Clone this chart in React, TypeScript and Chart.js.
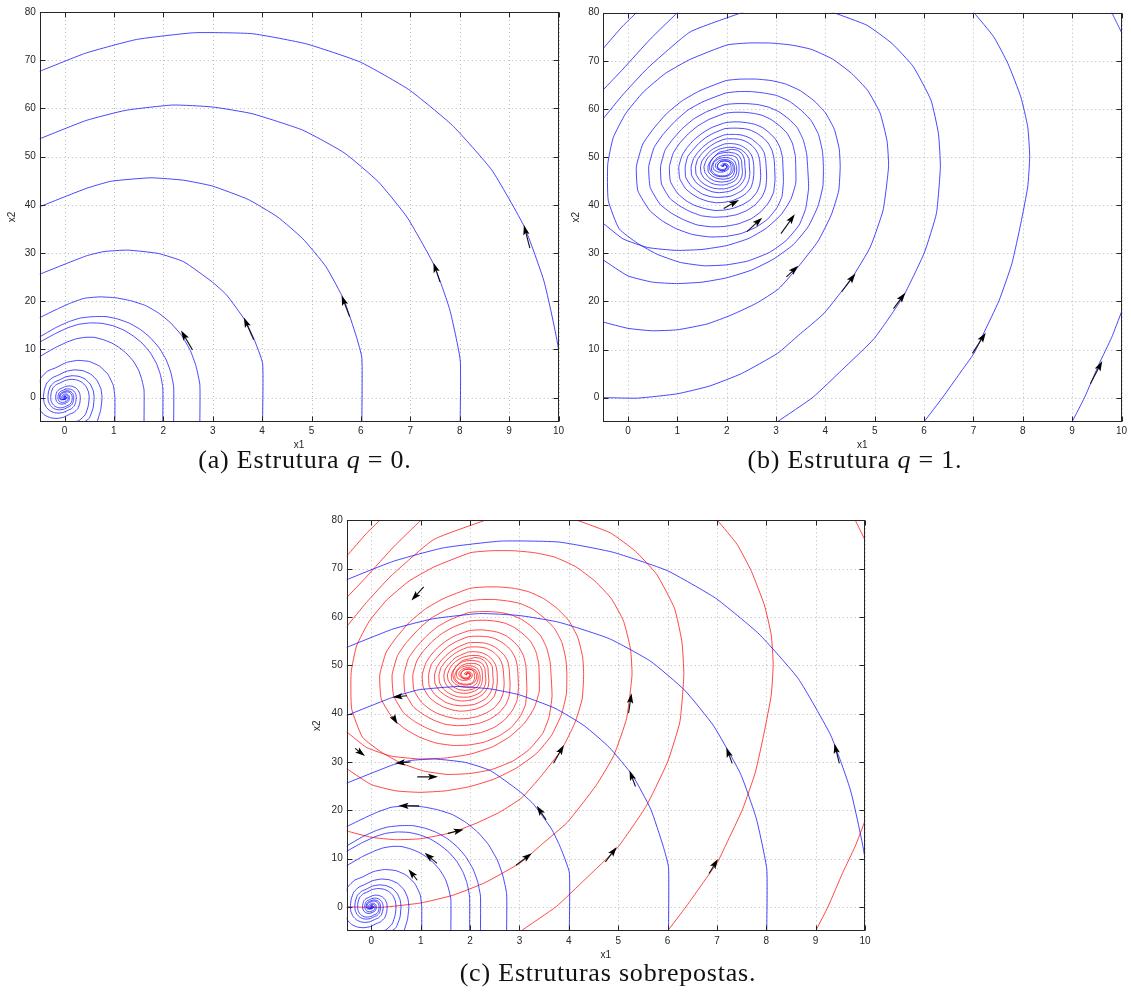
import React, { useEffect, useRef } from "react";
import { Chart, registerables } from "chart.js";

Chart.register(...registerables);

type Pt = [number, number];
type Arrow = [number, number, number, number];

// ---------- axes ----------
const X_RANGE: [number, number] = [-0.5, 10];
const Y_RANGE: [number, number] = [-5, 80];
const X_TICKS = [0, 1, 2, 3, 4, 5, 6, 7, 8, 9, 10];
const Y_TICKS = [0, 10, 20, 30, 40, 50, 60, 70, 80];

// ---------- structure q = 0 (focus at origin) ----------
const Q0_R10: Pt[] = [[10, -5], [10, 9.9], [9.71, 24.0], [9.31, 35.4], [8.65, 47.2], [7.85, 56.5], [6.97, 63.9], [5.99, 69.6], [4.89, 73.4], [3.8, 75.5], [2.63, 75.7], [1.46, 74.3], [0.44, 71.5], [-0.5, 67.7], [-0.7, 66.8]];
const Q0_R8: Pt[] = [[8.01, -5], [8.01, 7.8], [7.8, 18.2], [7.48, 27.5], [6.93, 37.5], [6.35, 44.8], [5.66, 50.8], [4.82, 55.5], [3.8, 58.9], [2.99, 60.3], [2.19, 60.7], [1.24, 59.6], [0.44, 57.5], [-0.5, 53.7], [-0.7, 52.8]];
const Q0_R6: Pt[] = [[6.02, -5], [6.02, 8.2], [5.91, 12.6], [5.66, 20.2], [5.29, 27.2], [4.82, 33.0], [4.31, 37.5], [3.72, 41.1], [2.99, 43.9], [2.41, 45.1], [1.75, 45.6], [0.95, 44.9], [0.44, 43.4], [-0.5, 39.6], [-0.7, 38.7]];
const Q0_R4: Pt[] = [[4.01, -5], [4.01, 7.1], [3.83, 12.3], [3.65, 16.1], [3.28, 21.3], [2.99, 24.0], [2.41, 28.2], [1.9, 29.9], [1.28, 30.6], [0.8, 30.3], [0.44, 29.4], [-0.5, 25.6], [-0.7, 24.6]];
const Q0_R274: Pt[] = [[2.74, -5], [2.74, 2.7], [2.66, 6.6], [2.55, 9.7], [2.37, 12.9], [2.15, 15.5], [1.91, 17.5], [1.64, 19.1], [1.34, 20.1], [1.04, 20.7], [0.72, 20.9], [0.4, 20.6], [0.12, 19.6], [-0.14, 18.4], [-0.5, 16.6], [-0.7, 15.5]];
const Q0_R221: Pt[] = [[2.21, -5], [2.21, 2.2], [2.15, 5.3], [2.06, 7.8], [1.91, 10.4], [1.73, 12.5], [1.54, 14.1], [1.32, 15.4], [1.08, 16.3], [0.84, 16.8], [0.58, 16.8], [0.32, 16.5], [0.1, 15.8], [-0.18, 14.5], [-0.5, 12.6], [-0.7, 11.3]];
const Q0_R199: Pt[] = [[1.99, -5], [1.99, 2.0], [1.94, 4.8], [1.86, 7.1], [1.73, 9.4], [1.57, 11.3], [1.39, 12.8], [1.2, 14.0], [0.98, 14.9], [0.76, 15.4], [0.53, 15.5], [0.29, 15.2], [0.07, 14.5], [-0.2, 13.2], [-0.5, 11.5], [-0.7, 10.2]];
const Q0_R161: Pt[] = [[1.61, -5], [1.61, 1.6], [1.56, 3.9], [1.5, 5.7], [1.39, 7.6], [1.26, 9.1], [1.12, 10.3], [0.96, 11.3], [0.79, 12.0], [0.6, 12.5], [0.42, 12.5], [0.24, 12.2], [0.07, 11.6], [-0.2, 10.3], [-0.5, 8.5], [-0.7, 7.0]];
const Q0_S102: Pt[] = [[1.02, -5], [1.02, 0], [0.99, 2.45], [0.88, 4.81], [0.71, 6.52], [0.5, 7.49], [0.27, 7.72], [0.04, 7.29], [-0.18, 6.18], [-0.34, 5.51], [-0.48, 4.08], [-0.55, 2.04], [-0.57, 0], [-0.55, -1.37], [-0.49, -2.69], [-0.4, -3.65], [-0.28, -4.19], [-0.15, -4.32], [-0.02, -4.08], [0.1, -3.46], [0.19, -3.08], [0.27, -2.28], [0.31, -1.14], [0.32, 0], [0.31, 0.77], [0.277, 1.51], [0.224, 2.04], [0.157, 2.35], [0.083, 2.42], [0.013, 2.29], [-0.058, 1.94], [-0.106, 1.73], [-0.15, 1.28], [-0.173, 0.64], [-0.179, 0], [-0.174, -0.43], [-0.155, -0.84], [-0.125, -1.15], [-0.088, -1.32], [-0.047, -1.36], [-0.007, -1.28], [0.032, -1.08], [0.059, -0.97], [0.084, -0.72], [0.097, -0.36], [0.1, 0], [0.097, 0.24], [0.087, 0.47], [0.07, 0.64], [0.049, 0.73], [0.026, 0.76], [0.004, 0.72], [-0.018, 0.61], [-0.033, 0.54], [-0.047, 0.4], [-0.054, 0.2], [-0.056, 0], [-0.054, -0.13], [-0.048, -0.26], [-0.039, -0.36], [-0.027, -0.41], [-0.015, -0.42], [-0.002, -0.4], [0.01, -0.34], [0.018, -0.3], [0.026, -0.22], [0.03, -0.11], [0.031, 0], [0.02, 0.15], [0, 0.2], [-0.015, 0.1], [0, 0]];
const Q0_S065: Pt[] = [[0.66, -5], [0.73, -2.7], [0.76, 0], [0.737, 1.82], [0.657, 3.59], [0.532, 4.86], [0.372, 5.58], [0.198, 5.75], [0.03, 5.43], [-0.137, 4.61], [-0.25, 4.1], [-0.357, 3.04], [-0.41, 1.52], [-0.426, 0], [-0.413, -1.02], [-0.368, -2.01], [-0.298, -2.72], [-0.208, -3.12], [-0.111, -3.22], [-0.017, -3.04], [0.076, -2.58], [0.141, -2.3], [0.2, -1.7], [0.23, -0.85], [0.239, 0], [0.232, 0.57], [0.207, 1.13], [0.167, 1.53], [0.117, 1.75], [0.062, 1.81], [0.01, 1.71], [-0.043, 1.45], [-0.079, 1.29], [-0.112, 0.96], [-0.129, 0.48], [-0.134, 0], [-0.13, -0.32], [-0.116, -0.63], [-0.094, -0.86], [-0.065, -0.98], [-0.035, -1.01], [-0.005, -0.96], [0.024, -0.81], [0.044, -0.72], [0.063, -0.54], [0.072, -0.27], [0.075, 0], [0.07, 0.3], [0.04, 0.5], [0, 0.45], [-0.03, 0.2], [-0.03, -0.1], [0, -0.2], [0, 0]];
const Q0_S041: Pt[] = [[0.41, -5], [0.5, -4.28], [0.58, -2.14], [0.6, 0], [0.582, 1.44], [0.519, 2.83], [0.42, 3.83], [0.294, 4.4], [0.156, 4.54], [0.024, 4.29], [-0.108, 3.64], [-0.198, 3.24], [-0.282, 2.4], [-0.324, 1.2], [-0.336, 0], [-0.326, -0.8], [-0.29, -1.58], [-0.235, -2.15], [-0.164, -2.47], [-0.088, -2.54], [-0.013, -2.4], [0.06, -2.03], [0.111, -1.81], [0.158, -1.34], [0.181, -0.67], [0.188, 0], [0.182, 0.45], [0.163, 0.89], [0.132, 1.2], [0.092, 1.38], [0.049, 1.42], [0.008, 1.34], [-0.034, 1.14], [-0.062, 1.02], [-0.088, 0.75], [-0.102, 0.38], [-0.105, 0], [-0.1, -0.25], [-0.075, -0.45], [-0.03, -0.44], [0.01, -0.38], [0.04, -0.2], [0.05, 0], [0.03, 0.2], [0, 0.2], [0, 0]];
const Q0_S021: Pt[] = [[0.2, -5], [0.29, -4.8], [0.42, -3.56], [0.48, -1.78], [0.5, 0], [0.485, 1.2], [0.433, 2.36], [0.35, 3.2], [0.245, 3.67], [0.13, 3.79], [0.02, 3.58], [-0.09, 3.03], [-0.165, 2.7], [-0.235, 2.0], [-0.27, 1.0], [-0.28, 0], [-0.272, -0.67], [-0.242, -1.32], [-0.196, -1.79], [-0.137, -2.06], [-0.073, -2.12], [-0.011, -2.0], [0.05, -1.7], [0.093, -1.51], [0.132, -1.12], [0.151, -0.56], [0.157, 0], [0.152, 0.38], [0.136, 0.74], [0.11, 1.0], [0.077, 1.15], [0.041, 1.19], [0.006, 1.12], [-0.028, 0.95], [-0.052, 0.85], [-0.074, 0.63], [-0.085, 0.31], [-0.088, 0], [-0.08, -0.3], [-0.05, -0.38], [-0.01, -0.35], [0.03, -0.2], [0.045, 0], [0.02, 0.15], [0, 0]];

// ---------- structure q = 1 (focus near (1.93, 48)) ----------
const Q1_C9: Pt[] = [[9.0, -5], [9.25, 0], [9.55, 7.1], [9.8, 12.5], [10.0, 17.8], [10.1, 20.5]];
const Q1_CTOPR: Pt[] = [[9.78, 80.5], [9.9, 78], [10.02, 75.5], [10.1, 74]];
const Q1_C6: Pt[] = [[6.0, -5], [6.38, 0.1], [6.72, 5.0], [7.01, 9.2], [7.19, 13.0], [7.52, 20.2], [7.78, 27.9], [7.96, 36.2], [8.1, 43.8], [8.14, 50.1], [8.1, 56.3], [7.96, 62.5], [7.7, 69.4], [7.41, 75], [7.01, 80], [6.9, 81]];
const Q1_C3: Pt[] = [[3.03, -5], [3.75, 0.1], [4.33, 5.7], [4.99, 12.3], [5.57, 20.9], [6.0, 30], [6.25, 38.3], [6.33, 48], [6.29, 54.9], [6.14, 61.8], [5.78, 68.8], [5.35, 73.6], [4.84, 77.4], [4.17, 80], [4.0, 80.6]];
const Q1_TOP1: Pt[] = [[0.25, 81], [0.17, 80], [-0.1, 77.3], [-0.5, 72.6], [-0.7, 70.5]];
const Q1_TOP2: Pt[] = [[1.1, 81], [1.0, 80], [0.45, 74.5], [-0.1, 68.3], [-0.5, 64.0], [-0.7, 62.0]];
const Q1_TOP3: Pt[] = [[2.45, 80.6], [2.3, 80], [1.26, 76], [0.4, 68.5], [-0.1, 63.0], [-0.5, 58.0], [-0.7, 55.5]];
const Q1_LEFT0: Pt[] = [[-0.7, 0], [-0.5, 0], [0.2, -0.1], [1.0, 0.8], [1.65, 2.4], [2.3, 5.0], [3.03, 9.2], [3.46, 13.0], [3.97, 17.5], [4.55, 25.1], [4.91, 31.3], [5.17, 39.0], [5.28, 48], [5.25, 53.3], [5.11, 59.1], [4.86, 63.8], [4.53, 67.4], [4.14, 70.4], [3.71, 72.4], [3.3, 73.3], [2.88, 73.7], [2.43, 73.7], [2.01, 73.3], [1.26, 70.3], [0.76, 67.4], [0.31, 63.5], [-0.05, 59], [-0.3, 54], [-0.41, 48.5], [-0.4, 41], [-0.18, 35.1], [0.19, 32.1], [0.59, 29.8], [1.06, 28.1], [1.55, 27.4], [2.0, 27.6], [2.43, 28.4], [2.87, 30.2], [3.2, 32.6], [3.47, 35.9], [3.6, 39.3], [3.66, 43.6], [3.64, 48], [3.62, 50.7], [3.55, 53.6], [3.43, 56.1], [3.26, 57.9], [3.06, 59.4], [2.84, 60.4], [2.63, 60.9], [2.41, 61.1], [2.19, 61.1], [1.97, 60.9], [1.59, 59.4], [1.33, 57.9], [1.1, 55.9], [0.9, 53.6], [0.75, 51.4], [0.66, 48], [0.68, 44.4], [0.85, 41.4], [1.04, 39.9], [1.25, 38.7], [1.49, 37.8], [1.74, 37.5], [1.96, 37.6], [2.19, 38], [2.41, 38.9], [2.58, 40.1], [2.72, 41.8], [2.79, 43.6], [2.81, 45.8], [2.8, 48], [2.79, 49.4], [2.76, 50.9], [2.69, 52.1], [2.6, 53], [2.5, 53.8], [2.39, 54.3], [2.29, 54.6], [2.18, 54.7], [2.06, 54.7], [1.95, 54.6], [1.76, 53.8], [1.63, 53], [1.51, 52], [1.41, 50.9], [1.33, 49.7], [1.28, 48], [1.29, 46.2], [1.38, 44.7], [1.48, 43.9], [1.58, 43.3], [1.7, 42.8], [1.83, 42.6], [1.95, 42.7], [2.06, 42.9], [2.17, 43.4], [2.26, 44], [2.33, 44.9], [2.37, 45.7], [2.38, 46.9], [2.37, 48], [2.36, 49.5], [2.31, 50.7], [2.22, 51.4], [2.1, 51.6], [1.98, 51.3], [1.85, 51], [1.74, 50.0], [1.65, 48.8], [1.62, 48], [1.63, 46.9], [1.7, 46.1], [1.8, 45.6], [1.93, 45.4], [2.05, 45.6], [2.13, 46.2], [2.16, 47.1], [2.16, 48], [2.12, 48.9], [2.03, 49.4], [1.93, 49.5], [1.84, 49.2], [1.78, 48.6], [1.77, 48], [1.81, 47.5], [1.89, 47.2], [1.97, 47.3], [2.02, 47.8], [2.0, 48.3], [1.94, 48.4], [1.93, 48]];
const Q1_LEFT15: Pt[] = [[-0.7, 16.3], [-0.5, 15.7], [0.0, 14.4], [0.49, 13.9], [1.0, 14.1], [1.6, 15.3], [2.1, 17.2], [2.6, 19.6], [3.05, 22.6], [3.45, 27.2], [3.85, 32.5], [4.12, 38], [4.27, 43], [4.3, 48], [4.28, 51.7], [4.18, 55.8], [4.0, 59.2], [3.77, 61.7], [3.49, 63.8], [3.19, 65.2], [2.9, 65.9], [2.6, 66.2], [2.29, 66.2], [1.99, 65.9], [1.46, 63.8], [1.1, 61.7], [0.78, 59], [0.51, 55.8], [0.3, 52.7], [0.17, 48], [0.2, 43], [0.44, 38.9], [0.7, 36.7], [0.98, 35.1], [1.31, 33.9], [1.66, 33.4], [1.98, 33.5], [2.29, 34.1], [2.59, 35.4], [2.83, 37.1], [3.02, 39.5], [3.12, 41.8], [3.15, 44.9], [3.14, 48], [3.13, 49.9], [3.08, 52], [2.99, 53.7], [2.87, 55], [2.73, 56.1], [2.57, 56.8], [2.43, 57.1], [2.27, 57.3], [2.11, 57.3], [1.96, 57.1], [1.69, 56.1], [1.51, 55], [1.34, 53.6], [1.2, 52], [1.1, 50.4], [1.03, 48], [1.05, 45.5], [1.17, 43.4], [1.3, 42.3], [1.45, 41.4], [1.62, 40.8], [1.79, 40.5], [1.95, 40.6], [2.11, 40.9], [2.27, 41.6], [2.39, 42.4], [2.49, 43.6], [2.53, 44.9], [2.55, 46.4], [2.55, 48], [2.54, 49], [2.52, 50], [2.47, 50.9], [2.41, 51.6], [2.34, 52.1], [2.26, 52.5], [2.18, 52.7], [2.1, 52.8], [2.02, 52.8], [1.95, 52.7], [1.81, 52.1], [1.71, 51.6], [1.63, 50.9], [1.56, 50], [1.5, 49.2], [1.47, 48], [1.48, 46.7], [1.54, 45.6], [1.61, 45.1], [1.68, 44.6], [1.77, 44.3], [1.86, 44.2], [1.94, 44.2], [2.02, 44.4], [2.1, 44.7], [2.17, 45.1], [2.22, 45.8], [2.24, 46.4], [2.25, 47.2], [2.25, 48], [2.24, 49], [2.2, 49.9], [2.12, 50.3], [2.02, 50.4], [1.92, 50.3], [1.82, 49.9], [1.74, 49.1], [1.69, 48], [1.7, 47.1], [1.77, 46.4], [1.86, 46.1], [1.96, 46.1], [2.05, 46.4], [2.09, 47.2], [2.09, 48], [2.06, 48.9], [1.98, 49.2], [1.89, 49.1], [1.83, 48.6], [1.81, 48], [1.84, 47.4], [1.91, 47.1], [1.97, 47.3], [2.0, 48], [1.96, 48.5], [1.92, 48.3], [1.93, 48]];
const Q1_LEFT28: Pt[] = [[-0.7, 30.0], [-0.5, 28.6], [0.0, 25.3], [0.5, 24.0], [0.98, 23.7], [1.5, 24.0], [2.0, 24.9], [2.5, 26.5], [2.95, 28.8], [3.35, 31.8], [3.65, 35.5], [3.85, 39.8], [3.95, 44], [3.96, 48], [3.94, 51.2], [3.86, 54.7], [3.71, 57.6], [3.5, 59.8], [3.27, 61.6], [3.01, 62.8], [2.76, 63.3], [2.5, 63.6], [2.23, 63.6], [1.98, 63.3], [1.52, 61.5], [1.22, 59.8], [0.95, 57.4], [0.71, 54.7], [0.53, 52], [0.42, 48], [0.45, 43.7], [0.65, 40.2], [0.87, 38.4], [1.12, 37], [1.4, 35.9], [1.7, 35.5], [1.97, 35.6], [2.23, 36.1], [2.5, 37.2], [2.7, 38.7], [2.86, 40.7], [2.95, 42.7], [2.98, 45.4], [2.97, 48], [2.96, 49.6], [2.92, 51.4], [2.84, 52.9], [2.74, 54], [2.62, 54.9], [2.48, 55.6], [2.36, 55.9], [2.22, 56], [2.09, 56], [1.96, 55.9], [1.72, 54.9], [1.57, 54], [1.43, 52.8], [1.31, 51.4], [1.21, 50.1], [1.16, 48], [1.17, 45.8], [1.28, 44], [1.39, 43.1], [1.51, 42.3], [1.66, 41.8], [1.81, 41.6], [1.95, 41.7], [2.09, 41.9], [2.22, 42.5], [2.33, 43.2], [2.41, 44.3], [2.45, 45.3], [2.47, 46.6], [2.46, 48], [2.45, 49.7], [2.39, 50.7], [2.3, 51.5], [2.16, 52], [2.0, 52], [1.84, 51.6], [1.71, 50.8], [1.6, 49.6], [1.54, 48], [1.56, 46.8], [1.64, 45.7], [1.76, 45], [1.9, 44.8], [2.04, 45], [2.15, 45.6], [2.2, 46.7], [2.2, 48], [2.16, 49.2], [2.06, 49.8], [1.94, 49.9], [1.83, 49.6], [1.74, 48.9], [1.72, 48], [1.75, 47.3], [1.83, 46.9], [1.93, 46.9], [2.02, 47.3], [2.05, 48], [2.0, 48.6], [1.92, 48.6], [1.88, 48.2], [1.93, 48]];
const Q1_LEFT36: Pt[] = [[-0.7, 37.5], [-0.5, 36.2], [-0.1, 33.0], [0.4, 31.2], [0.98, 30.6], [1.5, 30.8], [2.0, 31.6], [2.45, 33.1], [2.8, 35.2], [3.1, 38], [3.3, 41.2], [3.4, 44.6], [3.4, 48], [3.39, 50.3], [3.33, 52.9], [3.22, 55], [3.07, 56.5], [2.9, 57.8], [2.71, 58.7], [2.53, 59.1], [2.35, 59.3], [2.15, 59.3], [1.97, 59.1], [1.64, 57.8], [1.42, 56.5], [1.22, 54.8], [1.05, 52.9], [0.92, 50.9], [0.84, 48], [0.86, 44.9], [1.01, 42.4], [1.17, 41], [1.34, 40], [1.55, 39.3], [1.76, 38.9], [1.96, 39], [2.15, 39.4], [2.34, 40.2], [2.49, 41.2], [2.61, 42.7], [2.67, 44.2], [2.69, 46.1], [2.68, 48], [2.67, 49.2], [2.64, 50.5], [2.59, 51.5], [2.51, 52.4], [2.43, 53], [2.33, 53.5], [2.24, 53.7], [2.14, 53.8], [2.04, 53.8], [1.95, 53.7], [1.78, 53], [1.67, 52.3], [1.57, 51.5], [1.48, 50.5], [1.41, 49.5], [1.37, 48], [1.38, 46.4], [1.46, 45.1], [1.54, 44.4], [1.63, 43.9], [1.74, 43.5], [1.84, 43.4], [1.95, 43.4], [2.04, 43.6], [2.14, 44], [2.22, 44.5], [2.28, 45.3], [2.31, 46.1], [2.32, 47], [2.31, 48], [2.3, 49.3], [2.25, 50.3], [2.16, 50.8], [2.04, 51.0], [1.93, 50.9], [1.82, 50.6], [1.73, 49.9], [1.67, 49], [1.65, 48], [1.67, 47.1], [1.73, 46.4], [1.82, 46], [1.93, 45.9], [2.03, 46.1], [2.1, 46.6], [2.13, 47.3], [2.13, 48], [2.1, 48.7], [2.03, 49.1], [1.95, 49.2], [1.87, 49], [1.82, 48.5], [1.81, 48], [1.84, 47.6], [1.9, 47.4], [1.96, 47.5], [2.0, 47.9], [1.98, 48.3], [1.93, 48.3], [1.93, 48]];

// ---------- arrows [tailX, tailY, headX, headY] ----------
const ARROWS_A: Arrow[] = [[9.42, 31.0, 9.3, 35.8], [7.6, 24.0, 7.47, 28.0], [5.77, 16.8, 5.61, 21.2], [3.83, 12.0, 3.63, 16.6], [2.59, 9.9, 2.36, 13.9]];
const ARROWS_B: Arrow[] = [[1.94, 39.3, 2.25, 41.1], [2.41, 34.5, 2.72, 37.4], [3.1, 34.1, 3.38, 38.1], [3.21, 25.1, 3.45, 27.4], [4.33, 22.0, 4.61, 25.8], [5.38, 18.5, 5.62, 21.8], [6.98, 9.2, 7.25, 13.5], [9.37, 2.9, 9.61, 7.6]];
const ARROWS_C_BLUE: Arrow[] = [[9.48, 29.7, 9.38, 33.8], [7.31, 29.7, 7.19, 33.0], [5.35, 24.9, 5.23, 28.2], [3.54, 18.0, 3.35, 20.9], [0.97, 20.9, 0.55, 20.9], [1.33, 9.0, 1.08, 11.2], [0.93, 5.5, 0.75, 7.8], [0.72, 43.7, 0.43, 43.4], [0.79, 30.0, 0.48, 29.7]];
const ARROWS_C_RED: Arrow[] = [[1.06, 66.2, 0.81, 63.4], [0.43, 39.5, 0.53, 37.8], [-0.33, 32.8, -0.13, 31.2], [0.93, 26.9, 1.35, 26.9], [1.55, 15.2, 1.87, 16.0], [2.93, 8.6, 3.25, 11.1], [3.69, 29.7, 3.9, 33.5], [4.74, 9.3, 4.97, 12.4], [5.21, 40.1, 5.27, 44.2], [6.84, 6.9, 7.02, 9.9]];

const Q0_CURVES: Pt[][] = [Q0_R10, Q0_R8, Q0_R6, Q0_R4, Q0_R274, Q0_R221, Q0_R199, Q0_R161, Q0_S102, Q0_S065, Q0_S041, Q0_S021];
const Q1_CURVES: Pt[][] = [Q1_C9, Q1_CTOPR, Q1_C6, Q1_C3, Q1_TOP1, Q1_TOP2, Q1_TOP3, Q1_LEFT0, Q1_LEFT15, Q1_LEFT28, Q1_LEFT36];

const BLUE = "rgba(20,20,255,0.78)";
const RED = "rgba(255,20,20,0.78)";
const AXIS_COLOR = "#262626";
const TICK_FONT = { family: '"Liberation Sans", Arial, sans-serif', size: 10 };

const gridFramePlugin = {
  id: "gridFrame",
  beforeDatasetsDraw(chart: any) {
    const { ctx, chartArea: a, scales } = chart;
    const xs = scales.x, ys = scales.y;
    ctx.save();
    ctx.strokeStyle = "#b8b8b8";
    ctx.lineWidth = 1;
    ctx.setLineDash([1, 3]);
    X_TICKS.forEach((v) => {
      const p = Math.round(xs.getPixelForValue(v)) + 0.5;
      ctx.beginPath(); ctx.moveTo(p, a.top); ctx.lineTo(p, a.bottom); ctx.stroke();
    });
    Y_TICKS.forEach((v) => {
      const p = Math.round(ys.getPixelForValue(v)) + 0.5;
      ctx.beginPath(); ctx.moveTo(a.left, p); ctx.lineTo(a.right, p); ctx.stroke();
    });
    ctx.restore();
  },
  afterDatasetsDraw(chart: any) {
    const { ctx, chartArea: a, scales } = chart;
    const xs = scales.x, ys = scales.y;
    const l = Math.round(a.left) + 0.5, r = Math.round(a.right) - 0.5;
    const t = Math.round(a.top) + 0.5, b = Math.round(a.bottom) - 0.5;
    ctx.save();
    ctx.strokeStyle = AXIS_COLOR;
    ctx.lineWidth = 1;
    ctx.setLineDash([]);
    ctx.strokeRect(l, t, r - l, b - t);
    const tl = 5;
    ctx.beginPath();
    X_TICKS.forEach((v) => {
      const p = Math.round(xs.getPixelForValue(v)) + 0.5;
      ctx.moveTo(p, b); ctx.lineTo(p, b - tl);
      ctx.moveTo(p, t); ctx.lineTo(p, t + tl);
    });
    Y_TICKS.forEach((v) => {
      const p = Math.round(ys.getPixelForValue(v)) + 0.5;
      ctx.moveTo(l, p); ctx.lineTo(l + tl, p);
      ctx.moveTo(r, p); ctx.lineTo(r - tl, p);
    });
    ctx.stroke();
    ctx.restore();
  },
};

const arrowPlugin = {
  id: "arrowMarks",
  afterDatasetsDraw(chart: any, _args: any, opts: any) {
    const list: Arrow[] = (opts && opts.list) || [];
    const { ctx, chartArea: a, scales } = chart;
    const xs = scales.x, ys = scales.y;
    ctx.save();
    ctx.beginPath();
    ctx.rect(a.left, a.top, a.right - a.left, a.bottom - a.top);
    ctx.clip();
    list.forEach(([x0, y0, x1, y1]) => {
      const px0 = xs.getPixelForValue(x0), py0 = ys.getPixelForValue(y0);
      const px1 = xs.getPixelForValue(x1), py1 = ys.getPixelForValue(y1);
      const ang = Math.atan2(py1 - py0, px1 - px0);
      const c = Math.cos(ang), s = Math.sin(ang);
      ctx.strokeStyle = "#111";
      ctx.lineWidth = 1.1;
      ctx.beginPath(); ctx.moveTo(px0, py0); ctx.lineTo(px1 - c * 4, py1 - s * 4); ctx.stroke();
      const L = 10, W = 3.2;
      const bx = px1 - c * L, by = py1 - s * L;
      ctx.fillStyle = "#000";
      ctx.beginPath();
      ctx.moveTo(px1, py1);
      ctx.lineTo(bx - s * W, by + c * W);
      ctx.lineTo(px1 - c * (L - 2), py1 - s * (L - 2));
      ctx.lineTo(bx + s * W, by - c * W);
      ctx.closePath();
      ctx.fill();
    });
    ctx.restore();
  },
};

type Box = { L: number; T: number; R: number; B: number; yw: number; xh: number };

function Panel({ box, groups, arrows }: { box: Box; groups: { curves: Pt[][]; color: string }[]; arrows: Arrow[] }) {
  const ref = useRef<HTMLCanvasElement | null>(null);
  const left = Math.floor(box.L - box.yw);
  const top = Math.floor(box.T - 10);
  const width = Math.ceil(box.R + 10) - left;
  const height = Math.ceil(box.B + box.xh) - top;
  const yw = box.L - left;
  const padTop = box.T - top;
  const padRight = left + width - box.R;
  const xh = top + height - box.B;

  useEffect(() => {
    if (!ref.current) return;
    const datasets: any[] = [];
    groups.forEach((g) => {
      g.curves.forEach((c) => {
        datasets.push({
          data: c.map((p) => ({ x: p[0], y: p[1] })),
          showLine: true,
          borderColor: g.color,
          borderWidth: 1,
          pointRadius: 0,
          pointHoverRadius: 0,
          tension: 0.15,
          fill: false,
        });
      });
    });
    const axisCommon = {
      type: "linear" as const,
      grid: { display: false, drawTicks: false },
      border: { display: false },
    };
    const chart = new Chart(ref.current, {
      type: "scatter",
      data: { datasets },
      options: {
        animation: false,
        responsive: false,
        devicePixelRatio: 1,
        events: [],
        layout: { padding: { top: padTop, right: padRight, left: 0, bottom: 0 } },
        elements: { line: { capBezierPoints: false } as any },
        plugins: {
          legend: { display: false },
          tooltip: { enabled: false },
          arrowMarks: { list: arrows },
        } as any,
        scales: {
          x: {
            ...axisCommon,
            position: "bottom",
            min: X_RANGE[0],
            max: X_RANGE[1],
            afterBuildTicks: (ax: any) => { ax.ticks = X_TICKS.map((v) => ({ value: v })); },
            afterFit: (ax: any) => { ax.height = xh; },
            ticks: { font: TICK_FONT, color: AXIS_COLOR, padding: 4, maxRotation: 0, autoSkip: false, callback: (v: any) => String(v) },
            title: { display: true, text: "x1", font: TICK_FONT, color: AXIS_COLOR, padding: 0 },
          },
          y: {
            ...axisCommon,
            position: "left",
            min: Y_RANGE[0],
            max: Y_RANGE[1],
            afterBuildTicks: (ax: any) => { ax.ticks = Y_TICKS.map((v) => ({ value: v })); },
            afterFit: (ax: any) => { ax.width = yw; },
            ticks: { font: TICK_FONT, color: AXIS_COLOR, padding: 4, autoSkip: false, callback: (v: any) => String(v) },
            title: { display: true, text: "x2", font: TICK_FONT, color: AXIS_COLOR, padding: 0 },
          },
        },
      } as any,
      plugins: [gridFramePlugin, arrowPlugin],
    });
    return () => chart.destroy();
  }, []);

  return (
    <canvas
      ref={ref}
      width={width}
      height={height}
      style={{ position: "absolute", left, top, width, height }}
    />
  );
}

const captionStyle = (cx: number, baseline: number): React.CSSProperties => ({
  position: "absolute",
  left: cx - 300,
  width: 600,
  top: baseline - 22,
  textAlign: "center",
  fontFamily: '"Liberation Serif", "Times New Roman", serif',
  fontSize: 26,
  lineHeight: "26px",
  letterSpacing: "0.8px",
  color: "#111",
  whiteSpace: "nowrap",
});

export default function App() {
  const boxA: Box = { L: 39.8, T: 12, R: 558.5, B: 421.7, yw: 33.3, xh: 29.3 };
  const boxB: Box = { L: 603.3, T: 12.7, R: 1121.5, B: 421.7, yw: 32.8, xh: 29.3 };
  const boxC: Box = { L: 346.7, T: 520.3, R: 865, B: 931, yw: 35.5, xh: 29.3 };
  return (
    <div style={{ position: "absolute", left: 0, top: 0, width: 1131, height: 1001, background: "#fff", overflow: "hidden" }}>
      <Panel box={boxA} groups={[{ curves: Q0_CURVES, color: BLUE }]} arrows={ARROWS_A} />
      <Panel box={boxB} groups={[{ curves: Q1_CURVES, color: BLUE }]} arrows={ARROWS_B} />
      <Panel
        box={boxC}
        groups={[{ curves: Q0_CURVES, color: BLUE }, { curves: Q1_CURVES, color: RED }]}
        arrows={[...ARROWS_C_BLUE, ...ARROWS_C_RED]}
      />
      <div style={captionStyle(305, 469)}>(a) Estrutura <i>q</i> = 0.</div>
      <div style={captionStyle(855, 469)}>(b) Estrutura <i>q</i> = 1.</div>
      <div style={captionStyle(608, 982)}>(c) Estruturas sobrepostas.</div>
    </div>
  );
}
